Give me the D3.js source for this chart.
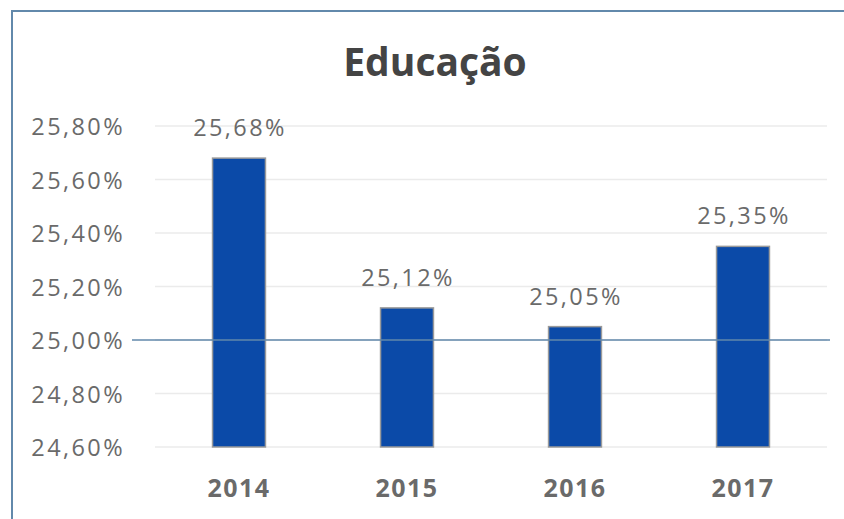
<!DOCTYPE html>
<html>
<head>
<meta charset="utf-8">
<script src="https://d3js.org/d3.v7.min.js"></script>
<style>
  body { margin: 0; background: #fff; }
  svg text { font-family: "Open Sans", sans-serif; }
</style>
</head>
<body>
<div id="chart"></div>
<script>
const years = ["2014", "2015", "2016", "2017"];
const values = [25.68, 25.12, 25.05, 25.35];
const yTicks = [24.6, 24.8, 25.0, 25.2, 25.4, 25.6, 25.8];
const baseLine = 25.0;

const width = 844, height = 519;
const margin = { top: 126, right: 17, bottom: 72, left: 155 };

const svg = d3.select("#chart").append("svg")
  .attr("width", width)
  .attr("height", height);

// outer frame (cut off on right/bottom like the original)
svg.append("rect")
  .attr("x", 12).attr("y", 11)
  .attr("width", width).attr("height", height)
  .attr("fill", "none")
  .attr("stroke", "#6289ab")
  .attr("stroke-width", 2);

const x = d3.scaleBand()
  .domain(years)
  .range([margin.left, width - margin.right])
  .paddingInner(0.685)
  .paddingOuter(0.3425);

const y = d3.scaleLinear()
  .domain([24.6, 25.8])
  .range([height - margin.bottom, margin.top]);

const fmt = v => v.toFixed(2).replace(".", ",") + "%";

// gridlines
svg.append("g").selectAll("line")
  .data(yTicks)
  .enter().append("line")
  .attr("x1", margin.left).attr("x2", width - margin.right)
  .attr("y1", d => y(d)).attr("y2", d => y(d))
  .attr("stroke", "#ebebeb")
  .attr("stroke-width", 1.5);

// y tick labels
svg.append("g").selectAll("text")
  .data(yTicks)
  .enter().append("text")
  .attr("x", 125)
  .attr("y", d => y(d) + 9)
  .attr("text-anchor", "end")
  .attr("font-size", 23.5)
  .attr("letter-spacing", 2.4)
  .attr("fill", "#6a6a6a")
  .text(fmt);

// bars
svg.append("g").selectAll("rect")
  .data(values)
  .enter().append("rect")
  .attr("x", (d, i) => x(years[i]))
  .attr("width", x.bandwidth())
  .attr("y", d => y(d))
  .attr("height", d => y(24.6) - y(d))
  .attr("fill", "#0b4aa8")
  .attr("stroke", "#9a9a9a")
  .attr("stroke-width", 1.5);

// 25% axis line
svg.append("line")
  .attr("x1", 132).attr("x2", 830)
  .attr("y1", y(baseLine)).attr("y2", y(baseLine))
  .attr("stroke", "#6289ab")
  .attr("stroke-width", 1.5);

// value labels
svg.append("g").selectAll("text")
  .data(values)
  .enter().append("text")
  .attr("x", (d, i) => x(years[i]) + x.bandwidth() / 2 + 1)
  .attr("y", d => y(d) - 22)
  .attr("text-anchor", "middle")
  .attr("font-size", 23.5)
  .attr("letter-spacing", 2.4)
  .attr("fill", "#6a6a6a")
  .text(fmt);

// x labels
svg.append("g").selectAll("text")
  .data(years)
  .enter().append("text")
  .attr("x", d => x(d) + x.bandwidth() / 2)
  .attr("y", 497)
  .attr("text-anchor", "middle")
  .attr("font-size", 25)
  .attr("letter-spacing", 1.5)
  .attr("font-weight", "bold")
  .attr("fill", "#6a6a6a")
  .text(d => d);

// title
svg.append("text")
  .attr("x", 435)
  .attr("y", 76)
  .attr("text-anchor", "middle")
  .attr("font-size", 39)
  .attr("font-weight", "bold")
  .attr("fill", "#444")
  .text("Educação");
</script>
</body>
</html>
